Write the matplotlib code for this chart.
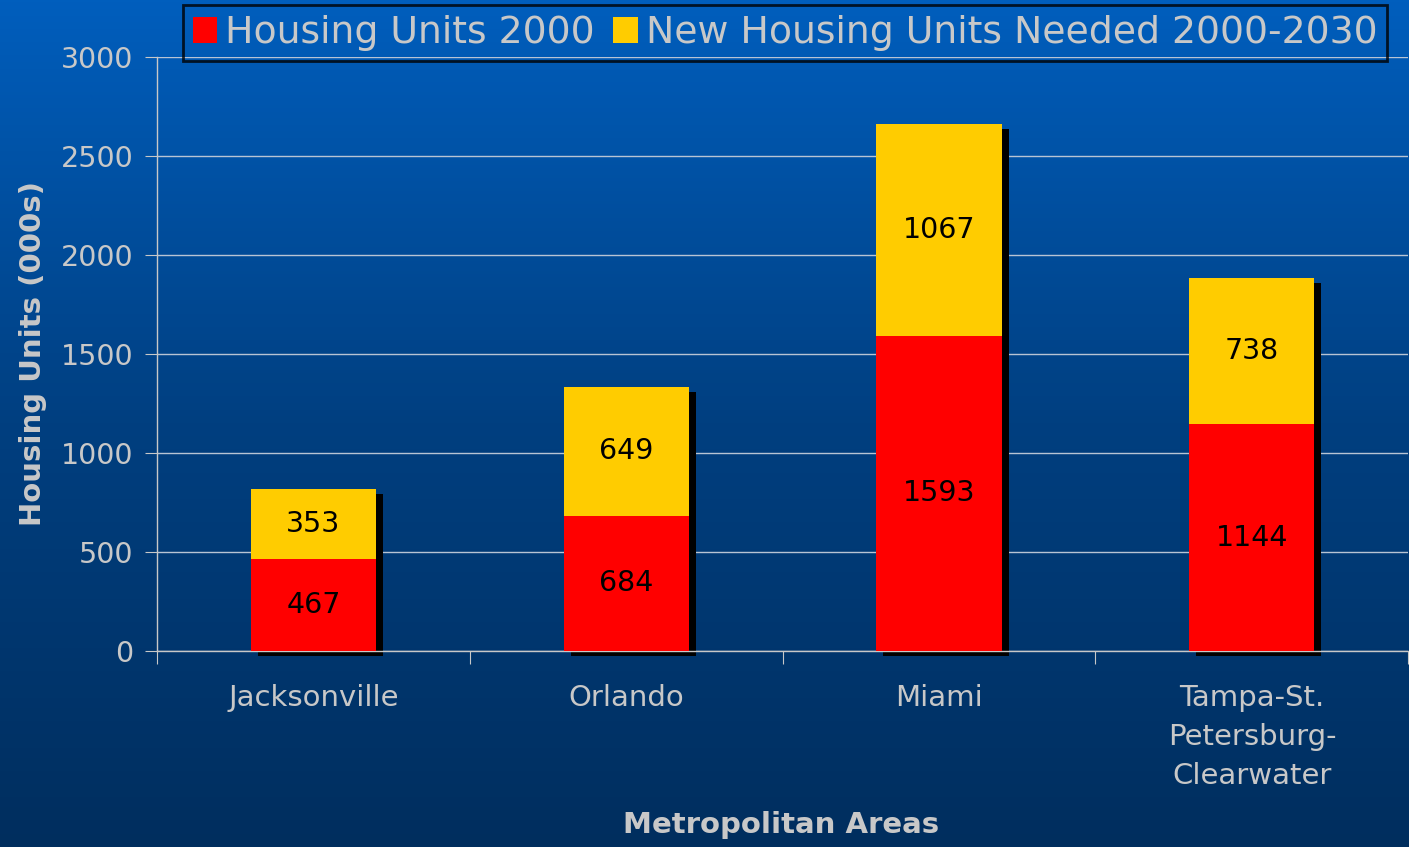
import numpy as np
import matplotlib
matplotlib.use("Agg")
import matplotlib.pyplot as plt
from matplotlib.patches import Patch
from matplotlib.colors import LinearSegmentedColormap
import matplotlib.transforms as mtrans

categories = ["Jacksonville", "Orlando", "Miami", "Tampa-St.\nPetersburg-\nClearwater"]
housing_2000 = [467, 684, 1593, 1144]
new_needed = [353, 649, 1067, 738]
series_names = ["Housing Units 2000", "New Housing Units Needed 2000-2030"]
yticks = [0, 500, 1000, 1500, 2000, 2500, 3000]

txt = "#c8c8c8"
red = "#ff0000"
gold = "#ffcc00"

fig = plt.figure(figsize=(14.09, 8.47), dpi=100)

# gradient background
bg = fig.add_axes([0, 0, 1, 1], zorder=-10)
cmap = LinearSegmentedColormap.from_list("bg", ["#005ebd", "#003f80", "#002e5e"])
grad = np.linspace(0, 1, 256).reshape(-1, 1)
bg.imshow(grad, aspect="auto", cmap=cmap, extent=[0, 1, 0, 1])
bg.axis("off")

ax = fig.add_axes([157/1409, 196/847, 1 - 157/1409 - 0.0005, 594/847])
ax.set_facecolor("none")

x = np.arange(len(categories))
w = 0.4
totals = [a + b for a, b in zip(housing_2000, new_needed)]

shadow_tr = ax.transData + mtrans.ScaledTranslation(7/100, -5/100, fig.dpi_scale_trans)
shadows = ax.bar(x, totals, w, color="black", transform=shadow_tr, zorder=2)
for p in shadows:
    p.set_clip_on(False)
b1 = ax.bar(x, housing_2000, w, color=red, zorder=3)
b2 = ax.bar(x, new_needed, w, bottom=housing_2000, color=gold, zorder=3)

for i in range(len(categories)):
    ax.text(x[i], housing_2000[i] / 2, str(housing_2000[i]), ha="center", va="center",
            fontsize=20.5, color="black", zorder=4)
    ax.text(x[i], housing_2000[i] + new_needed[i] / 2, str(new_needed[i]), ha="center",
            va="center", fontsize=20.5, color="black", zorder=4)

ax.set_ylim(0, 3000)
ax.set_xlim(-0.5, 3.5)
ax.set_yticks(yticks)
ax.set_yticklabels([str(t) for t in yticks], fontsize=20.5, color=txt)
ax.yaxis.grid(True, color="#b8c4d4", linewidth=1.0, zorder=0)
ax.set_axisbelow(True)
ax.tick_params(axis="y", length=9, color=txt, pad=8)

ax.set_xticks([-0.5, 0.5, 1.5, 2.5, 3.5])
ax.set_xticklabels([])
ax.tick_params(axis="x", which="major", length=9, color=txt)
ax.set_xticks(x, minor=True)
ax.set_xticklabels(categories, minor=True, fontsize=21, color=txt, linespacing=1.49)
ax.tick_params(axis="x", which="minor", length=0, pad=24)

for s in ["top", "right"]:
    ax.spines[s].set_visible(False)
for s in ["left", "bottom"]:
    ax.spines[s].set_color(txt)
    ax.spines[s].set_linewidth(1.0)

ax.set_ylabel("Housing Units (000s)", fontsize=21, fontweight="bold", color=txt, labelpad=10)
fig.text(781/1409, 1 - 825/847, "Metropolitan Areas", fontsize=21, fontweight="bold",
         color=txt, ha="center", va="center")

handles = [Patch(facecolor=red, edgecolor="none"), Patch(facecolor=gold, edgecolor="none")]
leg = fig.legend(handles, series_names, loc="upper center", bbox_to_anchor=(785/1409, 1 - 5/847),
                 ncol=2, fontsize=27.2, frameon=True, fancybox=False, handlelength=0.65,
                 handleheight=0.65, handletextpad=0.2, columnspacing=0.5, borderpad=0.27,
                 borderaxespad=0)
for t in leg.get_texts():
    t.set_color(txt)
fr = leg.get_frame()
fr.set_facecolor("none")
fr.set_edgecolor("black")
fr.set_linewidth(2)

fig.savefig("out.png", dpi=100)
